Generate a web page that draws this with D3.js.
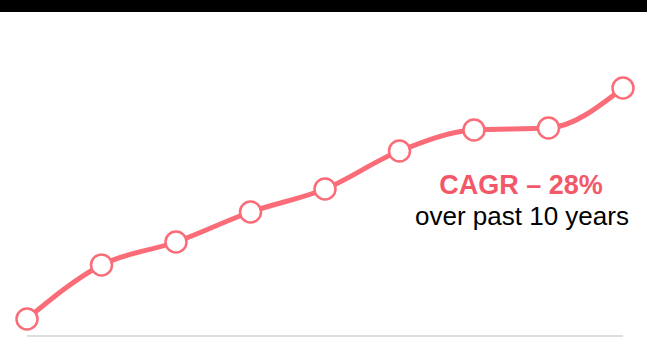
<!DOCTYPE html>
<html>
<head>
<meta charset="utf-8">
<script src="https://cdn.jsdelivr.net/npm/d3@7"></script>
<style>
  html, body { margin: 0; padding: 0; background: #fff; }
  svg { display: block; }
</style>
</head>
<body>
<script>
const years = ["2010", "2011", "2012", "2013", "2014", "2015", "2016", "2017", "2018"];
const values = [17, 71, 94, 124, 147, 185, 206, 208, 248];
const headline = "CAGR – 28%";
const subline = "over past 10 years";

const W = 647, H = 355;
const svg = d3.select("body").append("svg").attr("width", W).attr("height", H);

svg.append("rect").attr("x", 0).attr("y", 0).attr("width", W).attr("height", 12).attr("fill", "#000");

const x = d3.scalePoint().domain(years).range([27, 623]);
const y = d3.scaleLinear().domain([0, 300]).range([336, 36]);

svg.append("line")
  .attr("x1", 27).attr("x2", 623)
  .attr("y1", y(0)).attr("y2", y(0))
  .attr("stroke", "#dedede").attr("stroke-width", 2);

const data = years.map((d, i) => ({ year: d, value: values[i] }));
const lineGen = d3.line().x(d => x(d.year)).y(d => y(d.value)).curve(d3.curveMonotoneX);

svg.append("path").datum(data)
  .attr("d", lineGen)
  .attr("fill", "none")
  .attr("stroke", "#fa6d78")
  .attr("stroke-width", 5)
  .attr("stroke-linecap", "round");

svg.selectAll("circle.pt").data(data).enter().append("circle")
  .attr("class", "pt")
  .attr("cx", d => x(d.year)).attr("cy", d => y(d.value))
  .attr("r", 10.5)
  .attr("fill", "#fff")
  .attr("stroke", "#fa6d78")
  .attr("stroke-width", 2.5);

svg.append("text")
  .attr("x", 521).attr("y", 194)
  .attr("text-anchor", "middle")
  .attr("font-family", "Liberation Sans, Arial, sans-serif")
  .attr("font-weight", "bold")
  .attr("font-size", 27)
  .attr("fill", "#f25868")
  .text(headline);

svg.append("text")
  .attr("x", 522).attr("y", 225)
  .attr("text-anchor", "middle")
  .attr("font-family", "Liberation Sans, Arial, sans-serif")
  .attr("font-size", 26)
  .attr("fill", "#000")
  .text(subline);
</script>
</body>
</html>
